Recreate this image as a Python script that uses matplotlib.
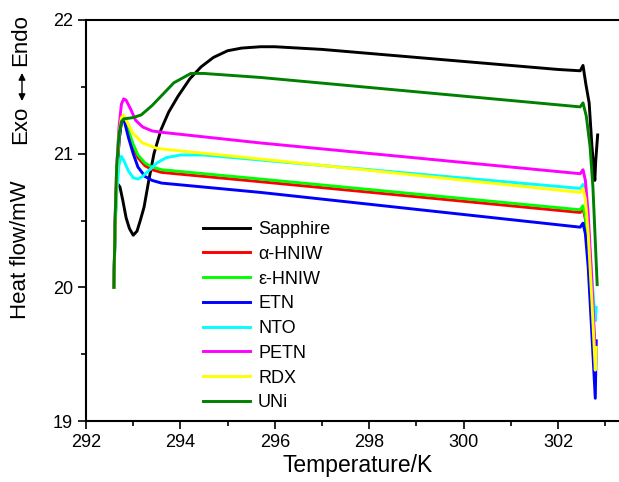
import numpy as np
import matplotlib.pyplot as plt
from matplotlib.ticker import MultipleLocator

plt.rcParams['font.family'] = ['Liberation Sans', 'DejaVu Sans']

# DSC traces, temperature in K, heat flow in mW
rise_x = [292.59, 292.62, 292.65, 292.70, 292.75]
tail_x = [302.47, 302.53, 302.58, 302.64, 302.71, 302.79]

sapphire_x = [292.68, 292.72, 292.78, 292.85, 292.92, 293.00, 293.08, 293.15, 293.23,
              293.33, 293.44, 293.59, 293.75, 293.95, 294.20, 294.44, 294.70, 295.00,
              295.30, 295.70, 296.00, 297.00, 298.00, 299.00, 300.00, 301.00, 302.00,
              302.47, 302.53, 302.59, 302.66, 302.72, 302.78, 302.80, 302.84]
sapphire_y = [20.77, 20.75, 20.65, 20.52, 20.44, 20.39, 20.42, 20.50, 20.60,
              20.80, 21.00, 21.18, 21.31, 21.43, 21.56, 21.65, 21.72, 21.77,
              21.79, 21.80, 21.80, 21.78, 21.75, 21.72, 21.69, 21.66, 21.63,
              21.62, 21.66, 21.52, 21.38, 21.05, 20.80, 20.95, 21.14]

a_hniw_x = rise_x + [292.80, 292.90, 293.00, 293.10, 293.25, 293.40, 293.60, 295.70] + tail_x
a_hniw_y = [20.00, 20.50, 20.80, 21.10, 21.24, 21.27, 21.15, 21.05, 20.97, 20.91, 20.88,
            20.86, 20.79, 20.56, 20.59, 20.51, 20.25, 19.90, 19.45]

e_hniw_x = rise_x + [292.80, 292.90, 293.00, 293.10, 293.25, 293.40, 293.60, 295.70] + tail_x
e_hniw_y = [20.00, 20.50, 20.80, 21.10, 21.24, 21.27, 21.17, 21.07, 20.99, 20.93, 20.90,
            20.88, 20.81, 20.58, 20.61, 20.53, 20.30, 19.95, 19.50]

etn_x = rise_x + [292.80, 292.90, 293.00, 293.10, 293.25, 293.40, 293.60, 295.70] + tail_x + [302.81]
etn_y = [20.00, 20.50, 20.80, 21.10, 21.24, 21.26, 21.12, 21.00, 20.90, 20.83, 20.80,
         20.78, 20.71, 20.45, 20.48, 20.40, 20.15, 19.70, 19.17, 19.60]

nto_x = rise_x + [292.80, 292.90, 293.00, 293.10, 293.20, 293.35, 293.50, 293.70, 294.00,
                  294.50] + tail_x + [302.81]
nto_y = [20.00, 20.45, 20.70, 20.92, 20.98, 20.95, 20.87, 20.82, 20.81, 20.83, 20.88,
         20.93, 20.97, 20.99, 20.99, 20.74, 20.77, 20.69, 20.45, 20.10, 19.75, 19.85]

petn_x = rise_x + [292.80, 292.85, 292.95, 293.05, 293.20, 293.40, 293.60, 295.70] + tail_x
petn_y = [20.00, 20.55, 20.90, 21.20, 21.37, 21.41, 21.40, 21.33, 21.25, 21.20, 21.17,
          21.16, 21.08, 20.85, 20.88, 20.80, 20.55, 20.10, 19.50]

rdx_x = rise_x + [292.80, 292.85, 293.00, 293.20, 293.50, 293.74, 295.70] + tail_x + [302.81]
rdx_y = [20.00, 20.50, 20.85, 21.15, 21.27, 21.29, 21.25, 21.15, 21.08, 21.04, 21.03,
         20.96, 20.71, 20.74, 20.66, 20.40, 19.95, 19.38, 19.55]

uni_x = rise_x + [292.80, 293.00, 293.17, 293.40, 293.59, 293.86, 294.22, 294.50, 295.70,
                  302.47, 302.53, 302.60, 302.68, 302.74, 302.83]
uni_y = [20.00, 20.55, 20.90, 21.15, 21.24, 21.26, 21.27, 21.29, 21.36, 21.43, 21.53,
         21.60, 21.60, 21.57, 21.35, 21.38, 21.28, 21.05, 20.75, 20.02]

series = [
    ('Sapphire', sapphire_x, sapphire_y, 'black'),
    (u'\u03b1-HNIW', a_hniw_x, a_hniw_y, '#ff0000'),
    (u'\u03b5-HNIW', e_hniw_x, e_hniw_y, '#00ff00'),
    ('ETN', etn_x, etn_y, '#0000ff'),
    ('NTO', nto_x, nto_y, '#00ffff'),
    ('PETN', petn_x, petn_y, '#ff00ff'),
    ('RDX', rdx_x, rdx_y, '#ffff00'),
    ('UNi', uni_x, uni_y, '#008000'),
]

fig = plt.figure(figsize=(6.19, 4.82), dpi=100)
# axes run past the right edge so that only three sides of the frame show
ax = fig.add_axes([86/619, 61/482, 554/619, 401/482])

for name, xs, ys, col in series:
    ax.plot(xs, ys, color=col, lw=2.1, label=name, solid_joinstyle='round')

ax.set_xlim(292, 292 + 554/47.2)
ax.set_ylim(19, 22)
ax.xaxis.set_major_locator(MultipleLocator(2))
ax.xaxis.set_minor_locator(MultipleLocator(1))
ax.yaxis.set_major_locator(MultipleLocator(1))
ax.yaxis.set_minor_locator(MultipleLocator(0.5))
ax.tick_params(which='both', direction='out', top=False, right=False, labelsize=13, width=1.2)
ax.tick_params(which='major', length=6)
ax.tick_params(which='minor', length=3.5)
for sp in ax.spines.values():
    sp.set_linewidth(1.5)

ax.set_xlabel('Temperature/K', fontsize=16.5)
ax.xaxis.set_label_coords((358 - 86) / 554, -0.082)

fig.text(21/619, 1 - 250/482, 'Heat flow/mW', rotation=90, fontsize=16,
         ha='center', va='center')
fig.text(21/619, 1 - 125/482, 'Exo', rotation=90, fontsize=16, ha='center', va='center')
fig.text(21/619, 1 - 40/482, 'Endo', rotation=90, fontsize=16, ha='center', va='center')
ax.annotate('', xy=(22/619, 1 - 73/482), xytext=(22/619, 1 - 101/482),
            xycoords='figure fraction', textcoords='figure fraction',
            arrowprops=dict(arrowstyle='<|-|>', color='black', lw=1.0,
                            mutation_scale=10, shrinkA=0, shrinkB=0))

ax.legend(loc='upper left', bbox_to_anchor=(203/619, 1 - 221/482),
          bbox_transform=fig.transFigure, frameon=False, fontsize=13,
          handlelength=2.6, handletextpad=0.45, labelspacing=0.43,
          borderpad=0, borderaxespad=0)

fig.savefig('out.png', dpi=100)
